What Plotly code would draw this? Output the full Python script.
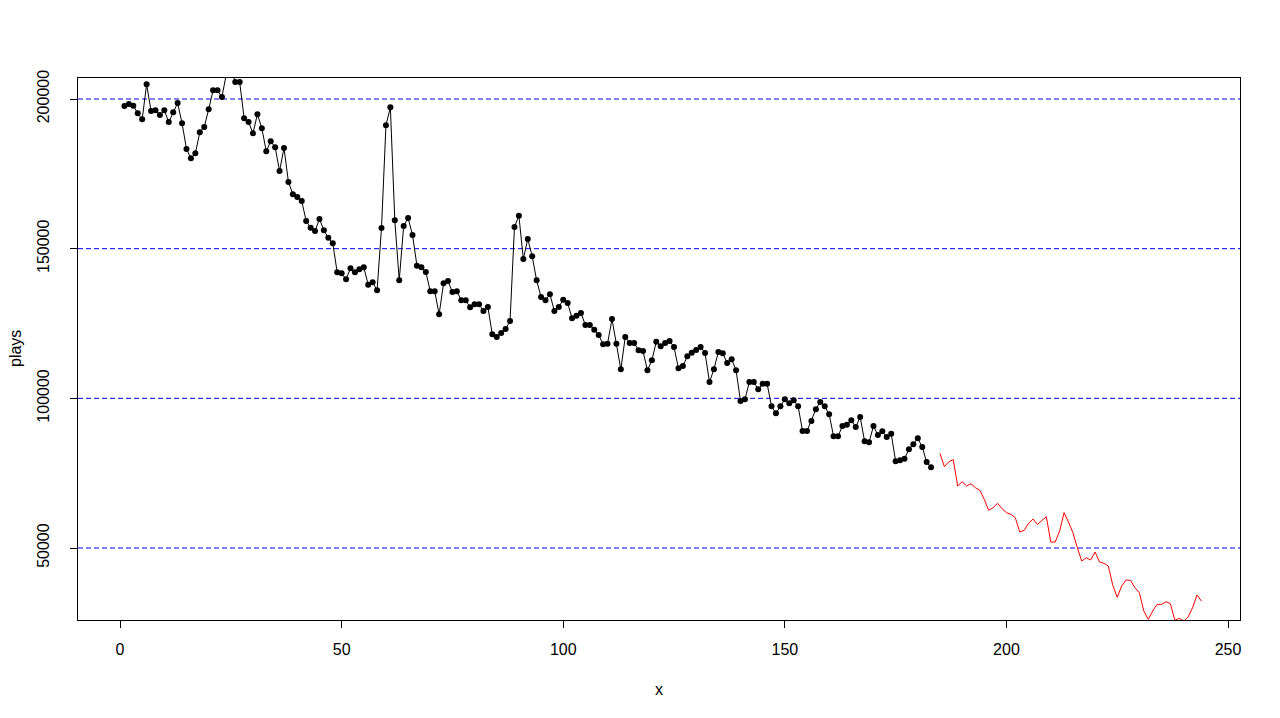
import plotly.graph_objects as go

# observed series (x = 1..183)
obs_x = list(range(1, 184))
obs_plays = [
    197660, 198330, 197770, 195220, 193210, 204900, 196000, 196220, 194650, 196220,
    192300, 195550, 198660, 191880, 183300, 180190, 181860, 188870, 190650, 196550,
    202900, 202900, 200670, 208500, 210000, 205680, 205680, 193550, 192300, 188540,
    194890, 190210, 182530, 185870, 183860, 175940, 183630, 172270, 168160, 167260,
    165920, 159240, 157000, 155900, 159910, 156130, 153660, 151790, 142100, 141770,
    139770, 143440, 142100, 143100, 143770, 137960, 138760, 136090, 156900, 191200,
    197220, 159470, 139430, 157570, 160240, 154560, 144300, 143770, 142200, 135760,
    135760, 128070, 138430, 139190, 135520, 135760, 132750, 132750, 130410, 131410,
    131410, 129170, 130510, 121380, 120480, 121820, 123160, 125830, 157240, 161010,
    146540, 153230, 147440, 139430, 133850, 132750, 134750, 129170, 130510, 132950,
    131840, 126730, 127600, 128500, 124490, 124490, 122930, 121150, 118040, 118240,
    126500, 118240, 109690, 120480, 118480, 118480, 116040, 115810, 109360, 112700,
    118910, 117380, 118480, 119150, 117150, 110020, 110800, 114030, 115250, 116140,
    117150, 115140, 105450, 109690, 115470, 115040, 111800, 113030, 109360, 99100,
    99670, 105450, 105450, 103010, 104890, 104890, 97330, 95000, 97330, 99670,
    98330, 99340, 97330, 89080, 89080, 92420, 96330, 98770, 97330, 94670,
    87310, 87310, 90750, 91190, 92650, 90420, 93760, 85640, 85300, 90750,
    87740, 88980, 87070, 88180, 78950, 79290, 79820, 82960, 84630, 86640,
    83730, 78720, 76950,
]

# forecast series (x = 185..244)
pred_x = list(range(185, 245))
pred_plays = [
    81630, 77150, 78820, 79490, 70700, 72140, 70700, 71480, 70140, 69270,
    66260, 62580, 63470, 64940, 63140, 61810, 61250, 60120, 55340, 55900,
    58240, 59670, 57890, 59340, 60450, 51990, 51990, 55670, 61810, 58680,
    55110, 50100, 45650, 46760, 45990, 48670, 45320, 44870, 43980, 37500,
    33500, 37300, 39300, 39190, 36730, 35060, 28950, 26170, 28950, 31180,
    31180, 32050, 31380, 25830, 26510, 25600, 26940, 30050, 34290, 32280,
]

hlines = [50000, 100000, 150000, 200000]
x_ticks = [0, 50, 100, 150, 200, 250]
y_ticks = [50000, 100000, 150000, 200000]

FONT = "Liberation Sans, Arial, sans-serif"

fig = go.Figure()

for h in hlines:
    fig.add_shape(type="line", xref="paper", x0=0, x1=1, yref="y", y0=h, y1=h,
                  line=dict(color="#0000FF", width=1, dash="5px,3px"), layer="below")

fig.add_trace(go.Scatter(x=obs_x, y=obs_plays, mode="lines+markers",
                         line=dict(color="black", width=1),
                         marker=dict(color="black", size=6),
                         showlegend=False, cliponaxis=True))
fig.add_trace(go.Scatter(x=pred_x, y=pred_plays, mode="lines",
                         line=dict(color="#FF0000", width=1),
                         showlegend=False, cliponaxis=True))

fig.update_layout(
    width=1280, height=718,
    margin=dict(l=70, r=48, t=70, b=106),
    paper_bgcolor="white", plot_bgcolor="white",
    font=dict(family=FONT, size=16, color="black"),
    xaxis=dict(range=[-9.48, 252.7], tickvals=x_ticks, ticks="outside", ticklen=7,
               tickcolor="black", showgrid=False, zeroline=False, showline=True,
               linecolor="black", linewidth=1, mirror=True, ticklabelstandoff=8,
               tickfont=dict(family=FONT, size=16, color="black")),
    yaxis=dict(range=[25945, 207016], tickvals=y_ticks, ticks="outside", ticklen=7,
               tickcolor="black", showgrid=False, zeroline=False, showline=True,
               linecolor="black", linewidth=1, mirror=True, tickangle=-90,
               ticklabelstandoff=15, tickformat="d",
               tickfont=dict(family=FONT, size=16, color="black")),
    annotations=[
        dict(text="x", xref="paper", yref="paper", x=0.5, y=0, yshift=-69,
             xanchor="center", yanchor="middle",
             showarrow=False, font=dict(family=FONT, size=16, color="black")),
        dict(text="plays", xref="paper", yref="paper", x=0, y=0.5, xshift=-63,
             xanchor="center", yanchor="middle",
             textangle=-90, showarrow=False, font=dict(family=FONT, size=16, color="black")),
    ],
)

fig.write_html("out.html")
